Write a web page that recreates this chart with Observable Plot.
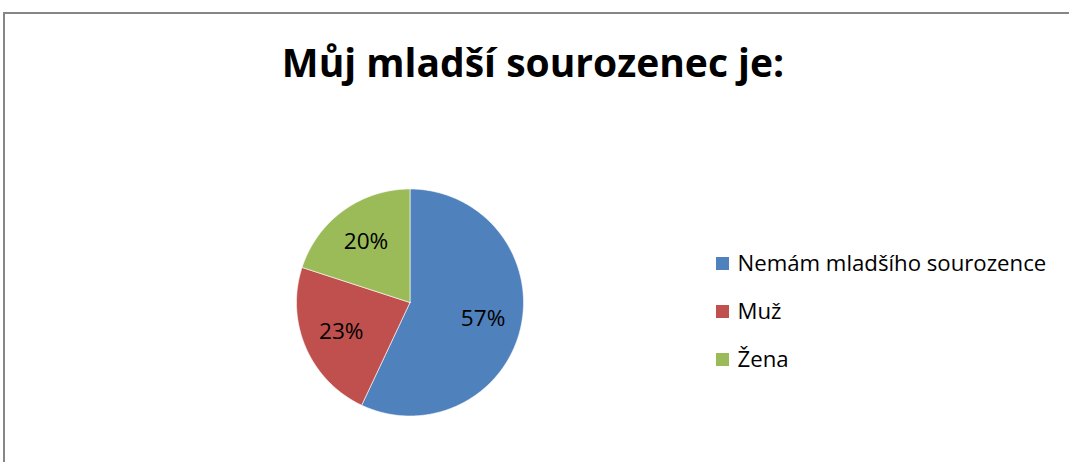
<!DOCTYPE html>
<html>
<head>
<meta charset="utf-8">
<script src="https://cdn.jsdelivr.net/npm/d3@7"></script>
<script src="https://cdn.jsdelivr.net/npm/@observablehq/plot@0.6"></script>
<style>
  html, body { margin: 0; padding: 0; background: #fff; }
  #wrap { position: relative; width: 1069px; height: 462px; overflow: hidden; }
  #frame { position: absolute; left: 3px; top: 12px; width: 1080px; height: 460px;
           border-top: 2px solid #868686; border-left: 2px solid #868686; }
  #chart { position: absolute; left: 0; top: 0; }
</style>
</head>
<body>
<div id="wrap"><div id="frame"></div><div id="chart"></div></div>
<script>
const title = "Můj mladší sourozenec je:";
const categories = ["Nemám mladšího sourozence", "Muž", "Žena"];
const values = [57, 23, 20];
const labels = ["57%", "23%", "20%"];
const colors = ["#4F81BD", "#C0504D", "#9BBB59"];

// layout
const W = 1069, H = 462;
const cx = 409.5, cy = 302, R = 113.5, labelR = 0.66 * R;
const font = "Open Sans";
const fs = 22.6, legendFs = 22.2;

const arcs = d3.pie().sort(null).value(d => d)(values);
const wedgePts = [];
arcs.forEach((a, i) => {
  const n = Math.max(2, Math.ceil((a.endAngle - a.startAngle) / 0.01));
  wedgePts.push({cat: categories[i], x: cx, y: cy});
  for (let k = 0; k <= n; k++) {
    const t = a.startAngle + (a.endAngle - a.startAngle) * k / n;
    wedgePts.push({cat: categories[i], x: cx + R * Math.sin(t), y: cy - R * Math.cos(t)});
  }
  wedgePts.push({cat: categories[i], x: cx, y: cy});
});
const labelPts = arcs.map((a, i) => {
  const m = (a.startAngle + a.endAngle) / 2;
  return {text: labels[i], x: cx + labelR * Math.sin(m), y: cy - labelR * Math.cos(m)};
});
const legendX = 716, legendTextX = 737, legendY0 = 263.5, legendStep = 48, sq = 13;
const legendRows = categories.map((c, i) => ({cat: c, y: legendY0 + i * legendStep}));

const chart = Plot.plot({
  width: W, height: H,
  margin: 0,
  style: {fontFamily: font, background: "transparent", color: "#000"},
  x: {domain: [0, W], range: [0, W], axis: null},
  y: {domain: [0, H], range: [0, H], axis: null},
  color: {domain: categories, range: colors},
  marks: [
    Plot.line(wedgePts, {x: "x", y: "y", z: "cat", fill: "cat", stroke: "white", strokeWidth: 0.6, curve: "linear"}),
    Plot.text(labelPts, {x: "x", y: "y", text: "text", fontSize: fs, fill: "#000"}),
    Plot.rect(legendRows, {x1: legendX, x2: legendX + sq, y1: d => d.y - sq / 2, y2: d => d.y + sq / 2, fill: "cat"}),
    Plot.text(legendRows, {x: legendTextX, y: "y", text: "cat", textAnchor: "start", fontSize: legendFs, fill: "#000"}),
    Plot.text([title], {x: 532.5, y: 64, text: d => d, fontSize: 39, fontWeight: "bold", fill: "#000"})
  ]
});
document.getElementById("chart").appendChild(chart);
</script>
</body>
</html>
